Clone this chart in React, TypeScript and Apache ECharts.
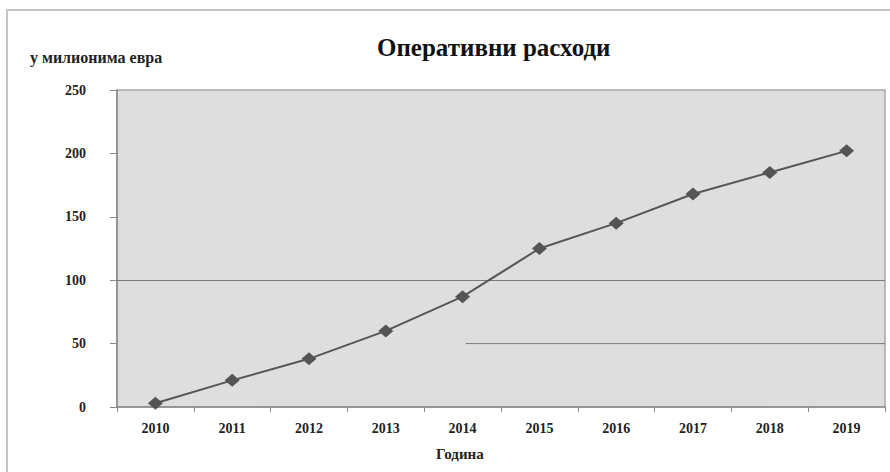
import { useEffect, useRef } from 'react';
import * as echarts from 'echarts';

const years = ['2010', '2011', '2012', '2013', '2014', '2015', '2016', '2017', '2018', '2019'];
const expenses = [3, 21, 38, 60, 87, 125, 145, 168, 185, 202];
const yMin = 0;
const yMax = 250;
const yStep = 50;
const fullGridValue = 100;
const partialGridValue = 50;
const partialGridFromCategory = '2014';
const chartTitle = 'Оперативни расходи';
const yAxisName = 'у милионима евра';
const xAxisName = 'Година';

const FONT = "'Liberation Serif', 'Times New Roman', serif";

export default function App() {
  const ref = useRef<HTMLDivElement>(null);

  useEffect(() => {
    if (!ref.current) return;
    const chart = echarts.init(ref.current, null, { renderer: 'svg' });
    const gridLeft = 117;
    const gridTop = 90;
    const gridRight = 5;
    const gridBottom = 65;
    chart.setOption({
      animation: false,
      backgroundColor: '#ffffff',
      textStyle: { fontFamily: FONT },
      title: {
        text: chartTitle,
        left: 372,
        top: 30,
        textStyle: { fontFamily: FONT, fontSize: 25, fontWeight: 'bold', color: '#111' },
      },
      grid: {
        left: gridLeft,
        top: gridTop,
        right: gridRight,
        bottom: gridBottom,
        show: true,
        backgroundColor: '#dedede',
        borderColor: '#a8a8a8',
        borderWidth: 1.5,
      },
      xAxis: {
        type: 'category',
        data: years,
        boundaryGap: true,
        axisLine: { show: true, lineStyle: { color: '#8a8a8a', width: 1.5 } },
        axisTick: { show: true, length: 5, lineStyle: { color: '#8a8a8a' } },
        axisLabel: { margin: 14, fontFamily: FONT, fontSize: 14, fontWeight: 'bold', color: '#222' },
        splitLine: { show: false },
      },
      yAxis: {
        type: 'value',
        min: yMin,
        max: yMax,
        interval: yStep,
        axisLine: { show: true, lineStyle: { color: '#8a8a8a', width: 1.5 } },
        axisTick: { show: true, length: 7, lineStyle: { color: '#8a8a8a' } },
        axisLabel: { margin: 31, fontFamily: FONT, fontSize: 14, fontWeight: 'bold', color: '#222' },
        splitLine: { show: false },
      },
      series: [
        {
          type: 'line',
          data: expenses,
          symbol: 'diamond',
          symbolSize: [15, 13],
          lineStyle: { color: '#555', width: 2 },
          itemStyle: { color: '#555' },
          z: 5,
          markLine: {
            silent: true,
            symbol: 'none',
            label: { show: false },
            lineStyle: { color: '#7a7a7a', width: 1, type: 'solid' },
            data: [{ yAxis: fullGridValue }],
            z: 2,
          },
        },
      ],
    });

    const y50 = chart.convertToPixel({ yAxisIndex: 0 }, partialGridValue) as number;
    const xStart = (chart.convertToPixel({ xAxisIndex: 0 }, partialGridFromCategory) as number) + 3;
    const xEnd = 890 - gridRight;

    chart.setOption({
      graphic: [
        {
          type: 'rect',
          z: -10,
          silent: true,
          shape: { x: 7, y: 10, width: 900, height: 500 },
          style: { fill: 'none', stroke: '#c4c4c4', lineWidth: 2 },
        },
        {
          type: 'line',
          z: 1,
          silent: true,
          shape: { x1: xStart, y1: y50, x2: xEnd, y2: y50 },
          style: { stroke: '#7a7a7a', lineWidth: 1 },
        },
        {
          type: 'text',
          left: 30,
          top: 49,
          style: { text: yAxisName, fontFamily: FONT, fontSize: 16, fontWeight: 'bold', fill: '#222' },
        },
        {
          type: 'text',
          left: 436,
          top: 446,
          style: { text: xAxisName, fontFamily: FONT, fontSize: 15, fontWeight: 'bold', fill: '#222' },
        },
      ],
    });

    return () => chart.dispose();
  }, []);

  return (
    <div
      ref={ref}
      style={{ position: 'absolute', left: 0, top: 0, width: 890, height: 472 }}
    />
  );
}
